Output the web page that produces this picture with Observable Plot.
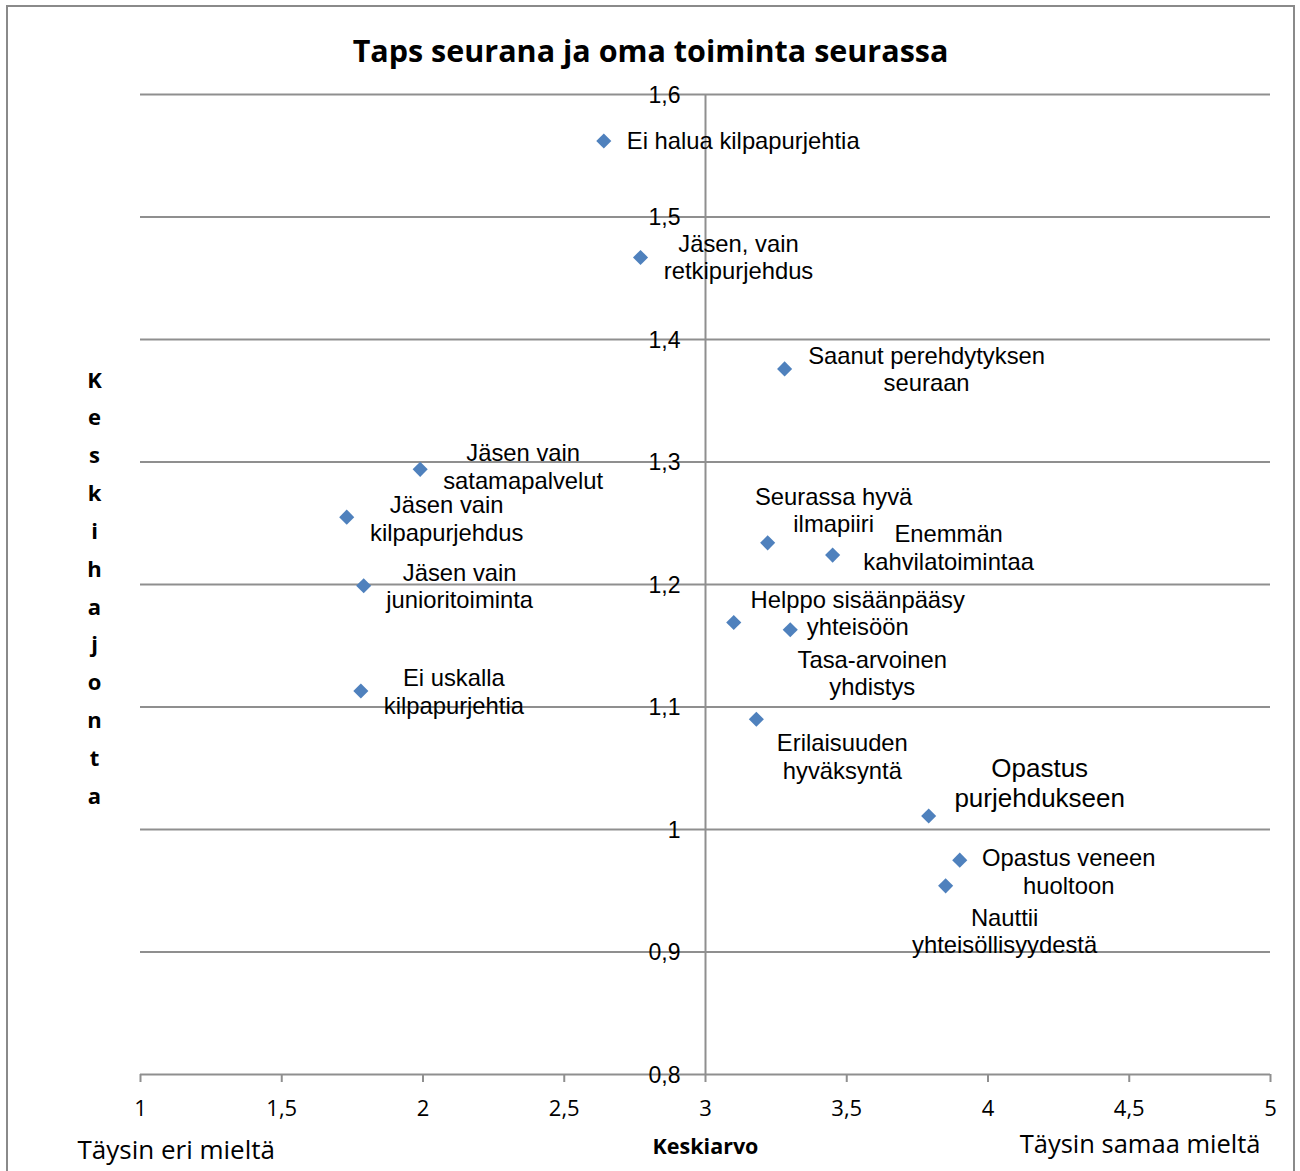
<!DOCTYPE html>
<html>
<head>
<meta charset="utf-8">
<script src="https://cdn.jsdelivr.net/npm/d3@7"></script>
<script src="https://cdn.jsdelivr.net/npm/@observablehq/plot@0.6"></script>
<style>
  html, body { margin: 0; padding: 0; background: #fff; }
  #wrap { position: relative; width: 1300px; height: 1171px; overflow: hidden; }
  #border { position: absolute; left: 6px; top: 5px; width: 1285px; height: 1175px; border: 2px solid #8a8a8a; pointer-events: none; }
</style>
</head>
<body>
<div id="wrap"><div id="border"></div></div>
<script>
// ---- data ----
const itemLabels = [
  "Ei halua kilpapurjehtia",
  "Jäsen, vain\nretkipurjehdus",
  "Saanut perehdytyksen\nseuraan",
  "Jäsen vain\nsatamapalvelut",
  "Jäsen vain\nkilpapurjehdus",
  "Jäsen vain\njunioritoiminta",
  "Ei uskalla\nkilpapurjehtia",
  "Seurassa hyvä\nilmapiiri",
  "Enemmän\nkahvilatoimintaa",
  "Helppo sisäänpääsy\nyhteisöön",
  "Tasa-arvoinen\nyhdistys",
  "Erilaisuuden\nhyväksyntä",
  "Opastus\npurjehdukseen",
  "Opastus veneen\nhuoltoon",
  "Nauttii\nyhteisöllisyydestä"
];
const meanValues = [2.64, 2.77, 3.28, 1.99, 1.73, 1.79, 1.78, 3.22, 3.45, 3.10, 3.30, 3.18, 3.79, 3.90, 3.85];
const sdValues   = [1.562, 1.467, 1.376, 1.294, 1.255, 1.199, 1.113, 1.234, 1.224, 1.169, 1.163, 1.090, 1.011, 0.975, 0.954];
const xTicks = [1, 1.5, 2, 2.5, 3, 3.5, 4, 4.5, 5];
const yTicks = [0.8, 0.9, 1, 1.1, 1.2, 1.3, 1.4, 1.5, 1.6];
const chartTitle = "Taps seurana ja oma toiminta seurassa";
const xTitle = "Keskiarvo";
const yTitle = "Keskihajonta";
const xLowLabel = "Täysin eri mieltä";
const xHighLabel = "Täysin samaa mieltä";

// ---- label layout (offsets in px relative to each point) ----
const labelLayout = [
  {dx: 23, dy: -1, anchor: "start"},
  {dx: 98, dy: -1},
  {dx: 142, dy: 0},
  {dx: 103, dy: -3},
  {dx: 100, dy: 1},
  {dx: 96, dy: 0},
  {dx: 93, dy: 0},
  {dx: 66, dy: -33},
  {dx: 116, dy: -8},
  {dx: 124, dy: -10},
  {dx: 82, dy: 43},
  {dx: 86, dy: 37},
  {dx: 111, dy: -34, size: 26},
  {dx: 109, dy: 11},
  {dx: 59, dy: 45}
];

const data = itemLabels.map((label, i) => ({label, mean: meanValues[i], sd: sdValues[i]}));
const fmt = d => String(d).replace(".", ",");
const arial = "'Liberation Sans', Arial, sans-serif";
const calibri = "'Open Sans', 'Noto Sans', sans-serif";
const gridColor = "#8f8f8f";

const labelMarks = data.map((d, i) => {
  const L = labelLayout[i];
  const fs = L.size || 23.8;
  return Plot.text([d], {
    x: "mean", y: "sd", text: "label",
    dx: L.dx, dy: L.dy,
    textAnchor: L.anchor || "middle",
    lineAnchor: "middle",
    lineHeight: 1.15,
    fontSize: fs,
    fontFamily: arial,
    fill: "#000"
  });
});

const chart = Plot.plot({
  width: 1300,
  height: 1171,
  marginLeft: 140,
  marginRight: 30,
  marginTop: 94,
  marginBottom: 97,
  style: {background: "transparent", overflow: "visible"},
  x: {type: "linear", domain: [1, 5], axis: null},
  y: {type: "linear", domain: [0.8, 1.6], axis: null},
  marks: [
    Plot.ruleY(yTicks, {stroke: gridColor, strokeWidth: 2}),
    Plot.ruleX([3], {y1: 0.8, y2: 1.6, stroke: gridColor, strokeWidth: 2}),
    Plot.axisX({ticks: xTicks, tickFormat: fmt, tickSize: 8, tickPadding: 18, fontSize: 22, fontFamily: calibri, stroke: gridColor, strokeWidth: 2, fill: "#000", label: null}),
    Plot.text(yTicks, {x: 3, y: d => d, text: fmt, textAnchor: "end", dx: -25, dy: 1, fontSize: 23, fontFamily: arial, fill: "#000"}),
    Plot.dot(data, {x: "mean", y: "sd", symbol: "diamond2", r: 6.8, fill: "#4f81bd", stroke: "none"}),
    ...labelMarks,
    Plot.text([chartTitle], {frameAnchor: "top", dx: -55, dy: -54, fontSize: 30.5, fontWeight: "bold", fontFamily: calibri, fill: "#000"}),
    Plot.text([yTitle], {frameAnchor: "left", text: d => d.split("").join("\n"), dx: -46, dy: -1, lineHeight: 1.72, fontSize: 22, fontWeight: "bold", fontFamily: calibri, textAnchor: "middle", fill: "#000"}),
    Plot.text([xTitle], {frameAnchor: "bottom", dy: 79, fontSize: 21.5, fontWeight: "bold", fontFamily: calibri, fill: "#000"}),
    Plot.text([xLowLabel], {frameAnchor: "bottom-left", textAnchor: "start", dx: -63, dy: 84, fontSize: 26, fontFamily: calibri, fill: "#000"}),
    Plot.text([xHighLabel], {frameAnchor: "bottom-right", textAnchor: "end", dx: -10, dy: 78, fontSize: 25.5, fontFamily: calibri, fill: "#000"})
  ]
});
chart.style.position = "absolute";
chart.style.left = "0";
chart.style.top = "0";
document.getElementById("wrap").appendChild(chart);
</script>
</body>
</html>
